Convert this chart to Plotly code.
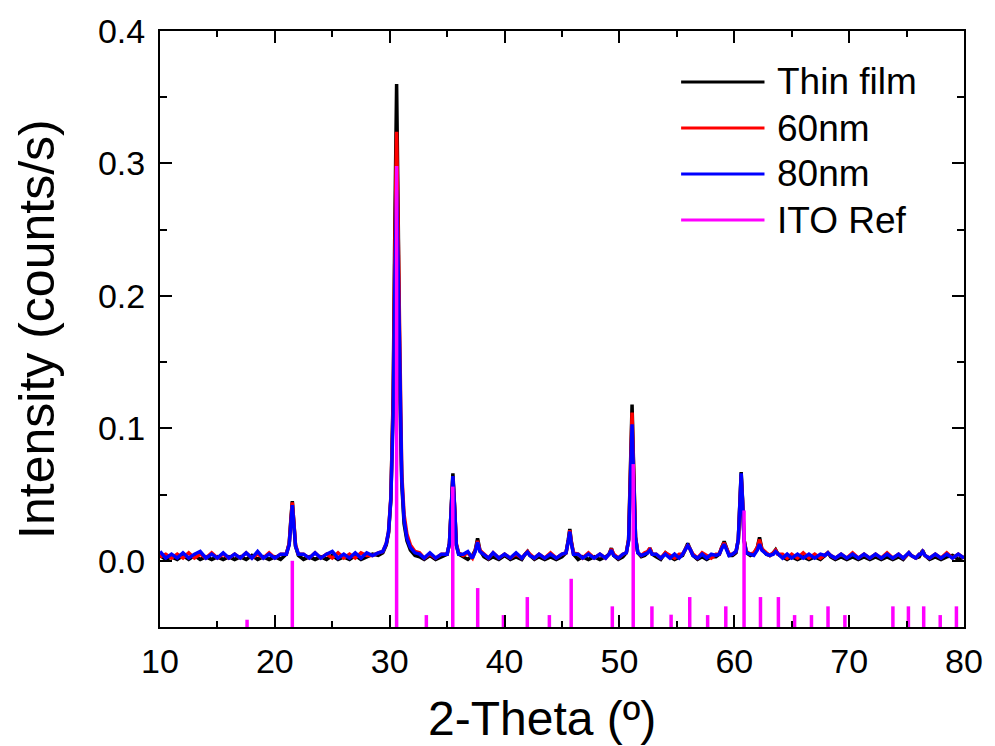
import plotly.graph_objects as go

# ---------------------------------------------------------------------------
# XRD patterns of ITO films (2-theta in degrees, intensity in counts/s)
# ---------------------------------------------------------------------------
two_theta = [
    10.0, 10.5, 11.0, 11.5, 12.0, 12.5, 13.0, 13.5, 14.0, 14.5, 15.0, 15.5, 16.0, 16.5, 17.0, 17.5, 18.0, 18.5, 19.0, 19.5, 20.0, 20.5,
    21.0, 21.25, 21.4, 21.52, 21.65, 21.8, 22.05,
    22.5, 23.0, 23.5, 24.0, 24.5, 25.0, 25.5, 26.0, 26.5, 27.0, 27.5, 28.0, 28.5, 29.0,
    29.4, 29.7, 29.9, 30.1, 30.3, 30.45, 30.6, 30.75, 30.9, 31.05, 31.25, 31.5, 31.8, 32.2,
    32.6, 33.0, 33.5, 34.0, 34.5,
    35.0, 35.2, 35.35, 35.5, 35.65, 35.8, 36.0,
    36.4, 36.8, 37.2,
    37.45, 37.65, 37.85,
    38.2, 38.6, 39.0, 39.5, 40.0, 40.5, 41.0, 41.5,
    41.8, 42.0, 42.2,
    42.6, 43.0, 43.5, 44.0, 44.5, 45.0,
    45.35, 45.55, 45.68, 45.8, 46.0,
    46.4, 46.8, 47.3, 47.8, 48.3, 48.8,
    49.1, 49.3, 49.5,
    49.9, 50.3,
    50.6, 50.8, 50.95, 51.1, 51.25, 51.4, 51.6,
    51.9, 52.2,
    52.45, 52.65, 52.85,
    53.2, 53.6, 54.0, 54.4, 54.8, 55.2,
    55.5, 55.7, 55.95, 56.2, 56.4,
    56.8, 57.2, 57.6, 58.0, 58.4,
    58.7, 58.9, 59.12, 59.35, 59.55,
    59.85,
    60.15, 60.35, 60.48, 60.6, 60.72, 60.85, 61.05,
    61.4, 61.7,
    62.0, 62.2, 62.4,
    62.8, 63.1,
    63.4, 63.6, 63.8,
    64.2, 64.6, 65.0, 65.5, 66.0, 66.5, 67.0, 67.5,
    67.9, 68.15, 68.4,
    68.8, 69.3, 69.8, 70.3, 70.8, 71.3, 71.8, 72.3, 72.8, 73.3, 73.8, 74.3, 74.7,
    75.0, 75.2, 75.4,
    75.8, 76.1,
    76.25, 76.4, 76.6,
    77.0, 77.5, 78.0, 78.5, 79.0, 79.5, 80.0,
]

thin_film = [
    0.004, 0.001, 0.003, 0.001, 0.004, 0.001, 0.004, 0.001, 0.003, 0.001, 0.003, 0.001, 0.003, 0.001, 0.003, 0.001, 0.004, 0.001, 0.003, 0.001, 0.003, 0.001,
    0.005, 0.013, 0.032, 0.045, 0.029, 0.011, 0.004,
    0.001, 0.003, 0.001, 0.003, 0.001, 0.004, 0.001, 0.003, 0.001, 0.004, 0.001, 0.003, 0.005, 0.004,
    0.006, 0.012, 0.021, 0.046, 0.125, 0.255, 0.360, 0.250, 0.120, 0.058, 0.028, 0.015, 0.008, 0.004,
    0.003, 0.001, 0.004, 0.001, 0.003,
    0.005, 0.013, 0.040, 0.066, 0.041, 0.012, 0.005,
    0.003, 0.001, 0.004,
    0.008, 0.017, 0.008,
    0.003, 0.001, 0.003, 0.001, 0.004, 0.001, 0.003, 0.001,
    0.005, 0.007, 0.004,
    0.001, 0.003, 0.001, 0.003, 0.001, 0.003,
    0.006, 0.016, 0.024, 0.015, 0.005,
    0.001, 0.003, 0.001, 0.003, 0.001, 0.003,
    0.005, 0.0095, 0.004,
    0.001, 0.003,
    0.006, 0.016, 0.062, 0.118, 0.066, 0.018, 0.006,
    0.003, 0.004,
    0.006, 0.0095, 0.005,
    0.003, 0.001, 0.006, 0.003, 0.001, 0.003,
    0.004, 0.008, 0.013, 0.008, 0.004,
    0.001, 0.003, 0.001, 0.003, 0.003,
    0.005, 0.010, 0.0146, 0.009, 0.004,
    0.004,
    0.006, 0.016, 0.046, 0.067, 0.046, 0.016, 0.006,
    0.004, 0.005,
    0.010, 0.0176, 0.009,
    0.005, 0.004,
    0.006, 0.0083, 0.005,
    0.003, 0.001, 0.003, 0.001, 0.003, 0.001, 0.003, 0.001,
    0.004, 0.006, 0.003,
    0.001, 0.003, 0.001, 0.003, 0.001, 0.003, 0.001, 0.003, 0.001, 0.003, 0.001, 0.003, 0.001,
    0.004, 0.006, 0.004,
    0.002, 0.003,
    0.005, 0.0078, 0.004,
    0.001, 0.003, 0.001, 0.003, 0.004, 0.001, 0.003,
]

film_60nm = [
    0.003, 0.005, 0.002, 0.005, 0.002, 0.006, 0.002, 0.005, 0.002, 0.006, 0.002, 0.005, 0.002, 0.005, 0.002, 0.006, 0.002, 0.005, 0.002, 0.006, 0.002, 0.005,
    0.005, 0.013, 0.031, 0.044, 0.030, 0.012, 0.005,
    0.005, 0.002, 0.006, 0.002, 0.005, 0.002, 0.006, 0.002, 0.005, 0.002, 0.006, 0.004, 0.004, 0.006,
    0.007, 0.013, 0.022, 0.048, 0.120, 0.235, 0.324, 0.240, 0.125, 0.066, 0.035, 0.020, 0.012, 0.007,
    0.006, 0.002, 0.005, 0.002, 0.005,
    0.005, 0.013, 0.039, 0.063, 0.040, 0.013, 0.006,
    0.004, 0.006, 0.002,
    0.008, 0.015, 0.008,
    0.005, 0.002, 0.006, 0.002, 0.005, 0.002, 0.005, 0.002,
    0.005, 0.007, 0.005,
    0.002, 0.005, 0.002, 0.006, 0.002, 0.005,
    0.006, 0.015, 0.023, 0.015, 0.006,
    0.005, 0.002, 0.006, 0.002, 0.005, 0.002,
    0.005, 0.009, 0.005,
    0.002, 0.005,
    0.006, 0.016, 0.060, 0.112, 0.064, 0.018, 0.006,
    0.004, 0.006,
    0.007, 0.0095, 0.005,
    0.005, 0.002, 0.006, 0.004, 0.002, 0.005,
    0.005, 0.008, 0.012, 0.008, 0.005,
    0.002, 0.006, 0.004, 0.002, 0.005,
    0.005, 0.010, 0.0135, 0.009, 0.005,
    0.005,
    0.007, 0.016, 0.044, 0.064, 0.045, 0.016, 0.007,
    0.005, 0.006,
    0.010, 0.016, 0.009,
    0.006, 0.004,
    0.006, 0.008, 0.005,
    0.005, 0.002, 0.005, 0.002, 0.006, 0.002, 0.005, 0.002,
    0.004, 0.006, 0.004,
    0.002, 0.005, 0.002, 0.006, 0.002, 0.005, 0.002, 0.005, 0.002, 0.006, 0.002, 0.005, 0.002,
    0.004, 0.006, 0.004,
    0.002, 0.005,
    0.005, 0.007, 0.004,
    0.002, 0.005, 0.002, 0.006, 0.002, 0.005, 0.002,
]

film_80nm = [
    0.007, 0.002, 0.005, 0.002, 0.006, 0.002, 0.005, 0.007, 0.002, 0.005, 0.002, 0.006, 0.002, 0.005, 0.002, 0.006, 0.002, 0.007, 0.002, 0.005, 0.002, 0.005,
    0.005, 0.012, 0.029, 0.042, 0.028, 0.011, 0.005,
    0.005, 0.002, 0.006, 0.002, 0.005, 0.007, 0.002, 0.005, 0.002, 0.006, 0.002, 0.006, 0.004, 0.006,
    0.007, 0.013, 0.022, 0.047, 0.110, 0.210, 0.280, 0.215, 0.115, 0.062, 0.031, 0.017, 0.010, 0.006,
    0.005, 0.002, 0.006, 0.002, 0.005,
    0.005, 0.013, 0.039, 0.064, 0.040, 0.012, 0.005,
    0.005, 0.007, 0.002,
    0.007, 0.014, 0.007,
    0.005, 0.002, 0.006, 0.002, 0.005, 0.002, 0.006, 0.002,
    0.005, 0.0065, 0.004,
    0.002, 0.005, 0.002, 0.005, 0.002, 0.005,
    0.006, 0.015, 0.022, 0.014, 0.005,
    0.005, 0.002, 0.005, 0.002, 0.005, 0.002,
    0.005, 0.008, 0.004,
    0.002, 0.005,
    0.006, 0.015, 0.055, 0.103, 0.058, 0.017, 0.006,
    0.004, 0.005,
    0.006, 0.008, 0.005,
    0.005, 0.002, 0.005, 0.002, 0.005, 0.002,
    0.005, 0.008, 0.0115, 0.008, 0.004,
    0.002, 0.005, 0.002, 0.005, 0.004,
    0.005, 0.009, 0.0125, 0.008, 0.004,
    0.005,
    0.007, 0.016, 0.045, 0.066, 0.045, 0.015, 0.006,
    0.005, 0.004,
    0.008, 0.0125, 0.008,
    0.005, 0.004,
    0.005, 0.007, 0.005,
    0.002, 0.005, 0.002, 0.005, 0.002, 0.005, 0.002, 0.005,
    0.004, 0.006, 0.004,
    0.002, 0.005, 0.002, 0.005, 0.002, 0.005, 0.002, 0.005, 0.002, 0.005, 0.002, 0.005, 0.002,
    0.005, 0.006, 0.004,
    0.002, 0.005,
    0.005, 0.007, 0.004,
    0.002, 0.005, 0.002, 0.005, 0.002, 0.005, 0.002,
]

# ITO reference pattern: line positions and stick heights (drawn up from the axis floor)
ito_pos = [17.58, 21.52, 30.60, 33.19, 35.49, 37.66, 39.90, 41.98, 43.90, 45.80,
           49.38, 51.20, 52.83, 54.50, 56.12, 57.68, 59.26, 60.85, 62.28, 63.84,
           65.25, 66.72, 68.16, 69.63, 73.81, 75.16, 76.49, 77.93, 79.34]
ito_height = [0.0055, 0.050, 0.348, 0.009, 0.106, 0.0294, 0.009, 0.0226, 0.009, 0.0364,
              0.0156, 0.123, 0.0156, 0.0093, 0.0226, 0.009, 0.0156, 0.088, 0.0226, 0.0226,
              0.009, 0.009, 0.0156, 0.009, 0.0156, 0.0156, 0.0156, 0.009, 0.0156]

series_names = ["Thin film", "60nm", "80nm", "ITO Ref"]
series_colors = ["#000000", "#FF0000", "#0000FF", "#FF00FF"]

x_range = [10, 80]
y_range = [-0.05, 0.4]
y_ticks = [0.0, 0.1, 0.2, 0.3, 0.4]

assert len(two_theta) == len(thin_film) == len(film_60nm) == len(film_80nm)
assert len(ito_pos) == len(ito_height)

FONT = "Liberation Sans, Arial, Helvetica, sans-serif"

fig = go.Figure()

for name, ys, color in zip(series_names[:3], [thin_film, film_60nm, film_80nm], series_colors[:3]):
    fig.add_trace(go.Scatter(
        x=two_theta, y=ys, mode="lines", name=name,
        line=dict(color=color, width=3.5), showlegend=False,
    ))

# reference sticks as one broken line
floor = y_range[0]
stick_x, stick_y = [], []
for p, h in zip(ito_pos, ito_height):
    stick_x += [p, p, None]
    stick_y += [floor, floor + h, None]
fig.add_trace(go.Scatter(
    x=stick_x, y=stick_y, mode="lines", name=series_names[3],
    line=dict(color=series_colors[3], width=3.5), showlegend=False,
))

# plot area geometry (pixels)
W, H = 995, 746
ML, MR, MT, MB = 160, 25, 31, 119
PW, PH = W - ML - MR, H - MT - MB


def px_x(px):
    return (px - ML) / PW


def px_y(py):
    return (H - MB - py) / PH


# legend drawn as line samples + labels
legend_rows = [82, 128, 174, 220]
for name, color, row in zip(series_names, series_colors, legend_rows):
    fig.add_shape(type="line", xref="paper", yref="paper",
                  x0=px_x(685), x1=px_x(769), y0=px_y(row), y1=px_y(row),
                  line=dict(color=color, width=3))
    fig.add_annotation(xref="paper", yref="paper", x=px_x(780), y=px_y(row),
                       xanchor="left", yanchor="middle", showarrow=False,
                       text=name, font=dict(family=FONT, size=37, color="black"))

# axis titles
fig.add_annotation(xref="paper", yref="paper", x=px_x(545), y=px_y(718),
                   xanchor="center", yanchor="middle", showarrow=False,
                   text="2-Theta (º)", font=dict(family=FONT, size=48, color="black"))
fig.add_annotation(xref="paper", yref="paper", x=px_x(36), y=0.5,
                   xanchor="center", yanchor="middle", showarrow=False, textangle=-90,
                   text="Intensity (counts/s)", font=dict(family=FONT, size=50, color="black"))

axis_common = dict(
    showline=True, linecolor="black", linewidth=2, mirror="ticks",
    ticks="inside", ticklen=12, tickwidth=2, tickcolor="black",
    showgrid=False, zeroline=False,
    tickfont=dict(family=FONT, size=34, color="black"),
)

fig.update_xaxes(range=x_range, tick0=10, dtick=10, ticklabelstandoff=3,
                 minor=dict(dtick=5, ticks="inside", ticklen=6, tickwidth=2, tickcolor="black"),
                 **axis_common)
fig.update_yaxes(range=y_range, tickvals=y_ticks, ticktext=[f"{v:.1f}" for v in y_ticks],
                 ticklabelstandoff=6,
                 minor=dict(dtick=0.05, tick0=0, ticks="inside", ticklen=7, tickwidth=2, tickcolor="black"),
                 **axis_common)

fig.update_layout(
    width=W, height=H,
    margin=dict(l=ML, r=MR, t=MT, b=MB),
    paper_bgcolor="white", plot_bgcolor="white",
    showlegend=False,
    font=dict(family=FONT, color="black"),
)

fig.write_html("out.html")
